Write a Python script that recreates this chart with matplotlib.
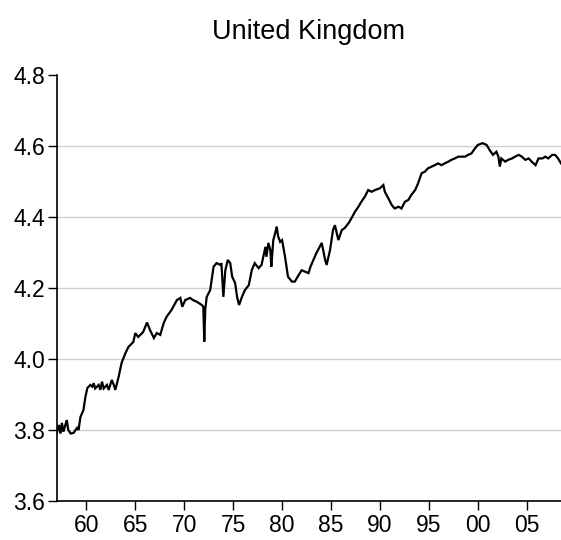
import matplotlib
matplotlib.use("Agg")
import matplotlib.pyplot as plt

plt.rcParams['font.family'] = ['Liberation Sans', 'DejaVu Sans']

title = "United Kingdom"

# decimal years and values
years = [
    1957.0, 1957.2, 1957.35, 1957.5, 1957.65, 1958.0, 1958.15, 1958.4, 1958.7, 1959.05, 1959.2,
    1959.4, 1959.7, 1959.9, 1960.1, 1960.4, 1960.6, 1960.75, 1960.9, 1961.26, 1961.43, 1961.6,
    1961.77, 1962.1, 1962.28, 1962.6, 1962.8, 1962.96, 1963.3, 1963.6, 1964.0, 1964.3, 1964.8,
    1965.0, 1965.3, 1965.8, 1966.2, 1966.5, 1966.9, 1967.2, 1967.55, 1967.9, 1968.2, 1968.7,
    1969.25, 1969.6, 1969.8, 1970.1, 1970.6, 1970.9, 1971.3, 1971.8, 1971.95, 1972.05, 1972.15,
    1972.3, 1972.65, 1972.8, 1973.0, 1973.3, 1973.7, 1973.8, 1974.0, 1974.2, 1974.45, 1974.7,
    1974.9, 1975.2, 1975.4, 1975.6, 1975.9, 1976.2, 1976.6, 1976.9, 1977.2, 1977.6, 1977.9,
    1978.3, 1978.4, 1978.6, 1978.8, 1978.9, 1979.1, 1979.3, 1979.45, 1979.6, 1979.8, 1980.0,
    1980.3, 1980.6, 1981.0, 1981.3, 1981.7, 1982.0, 1982.35, 1982.7, 1982.9, 1983.2, 1983.5,
    1984.05, 1984.4, 1984.55, 1984.9, 1985.2, 1985.4, 1985.75, 1986.1, 1986.4, 1986.8, 1987.1,
    1987.45, 1987.8, 1988.1, 1988.45, 1988.8, 1989.15, 1989.5, 1990.0, 1990.35, 1990.5, 1990.85,
    1991.2, 1991.5, 1991.9, 1992.2, 1992.55, 1992.9, 1993.2, 1993.6, 1993.9, 1994.25, 1994.6,
    1994.9, 1995.3, 1995.6, 1995.95, 1996.3, 1996.6, 1997.0, 1997.3, 1997.65, 1998.0, 1998.3,
    1998.7, 1999.0, 1999.35, 1999.7, 2000.0, 2000.5, 2000.9, 2001.2, 2001.55, 2001.9, 2002.1,
    2002.25, 2002.4, 2002.8, 2003.1, 2003.5, 2003.8, 2004.2, 2004.5, 2004.85, 2005.2, 2005.5,
    2005.9, 2006.2, 2006.6, 2006.9, 2007.2, 2007.6, 2007.9, 2008.2, 2008.5,
]
values = [
    3.794, 3.814, 3.790, 3.820, 3.795, 3.828, 3.800, 3.790, 3.792, 3.806, 3.800,
    3.837, 3.856, 3.893, 3.918, 3.927, 3.922, 3.932, 3.917, 3.927, 3.913, 3.936,
    3.917, 3.927, 3.913, 3.941, 3.927, 3.913, 3.950, 3.989, 4.017, 4.034, 4.048,
    4.073, 4.062, 4.076, 4.103, 4.082, 4.059, 4.073, 4.068, 4.101, 4.119, 4.138,
    4.166, 4.172, 4.147, 4.166, 4.172, 4.166, 4.161, 4.152, 4.147, 4.049, 4.140,
    4.175, 4.194, 4.223, 4.260, 4.270, 4.265, 4.270, 4.175, 4.250, 4.279, 4.270,
    4.232, 4.214, 4.175, 4.152, 4.175, 4.194, 4.208, 4.250, 4.270, 4.256, 4.265,
    4.316, 4.288, 4.327, 4.307, 4.260, 4.335, 4.355, 4.373, 4.345, 4.330, 4.335,
    4.288, 4.232, 4.218, 4.218, 4.237, 4.250, 4.246, 4.242, 4.260, 4.279, 4.298,
    4.327, 4.279, 4.265, 4.307, 4.363, 4.377, 4.335, 4.363, 4.369, 4.383, 4.397,
    4.415, 4.429, 4.443, 4.457, 4.476, 4.471, 4.476, 4.481, 4.490, 4.471, 4.453,
    4.434, 4.424, 4.429, 4.424, 4.443, 4.448, 4.462, 4.476, 4.495, 4.523, 4.528,
    4.537, 4.542, 4.546, 4.551, 4.546, 4.551, 4.556, 4.561, 4.565, 4.570, 4.570,
    4.570, 4.575, 4.579, 4.593, 4.603, 4.608, 4.603, 4.589, 4.575, 4.584, 4.570,
    4.542, 4.565, 4.556, 4.561, 4.565, 4.570, 4.575, 4.570, 4.561, 4.565, 4.556,
    4.546, 4.565, 4.565, 4.570, 4.565, 4.575, 4.575, 4.565, 4.551,
]

x_ticks = [1960, 1965, 1970, 1975, 1980, 1985, 1990, 1995, 2000, 2005]
x_labels = ["60", "65", "70", "75", "80", "85", "90", "95", "00", "05"]
y_ticks = [3.6, 3.8, 4.0, 4.2, 4.4, 4.6, 4.8]
y_labels = ["3.6", "3.8", "4.0", "4.2", "4.4", "4.6", "4.8"]

fig = plt.figure(figsize=(5.61, 5.40), dpi=100)
ax = fig.add_axes([57 / 561, 1 - 501 / 540, 1 - 57 / 561, (501 - 75) / 540])

ax.plot(years, values, color="black", lw=1.6, solid_joinstyle="miter")

ax.set_xlim(1957.0, 2008.5)
ax.set_ylim(3.6, 4.8)
ax.set_xticks(x_ticks)
ax.set_xticklabels(x_labels)
ax.set_yticks(y_ticks)
ax.set_yticklabels(y_labels)

for y in y_ticks[1:-1]:
    ax.axhline(y, color="#d0d0d0", lw=1.0, zorder=0)

for s in ["top", "right"]:
    ax.spines[s].set_visible(False)
for s in ["left", "bottom"]:
    ax.spines[s].set_linewidth(1.2)
    ax.spines[s].set_color("black")

ax.tick_params(axis="both", direction="out", length=6.5, width=1.0, labelsize=16.5, colors="black")
ax.tick_params(axis="y", pad=2)
ax.tick_params(axis="x", pad=3)

fig.text((57 + 561) / 2 / 561, 1 - 32 / 540, title, ha="center", va="center", fontsize=19.5)

fig.savefig("out.png", dpi=100)
